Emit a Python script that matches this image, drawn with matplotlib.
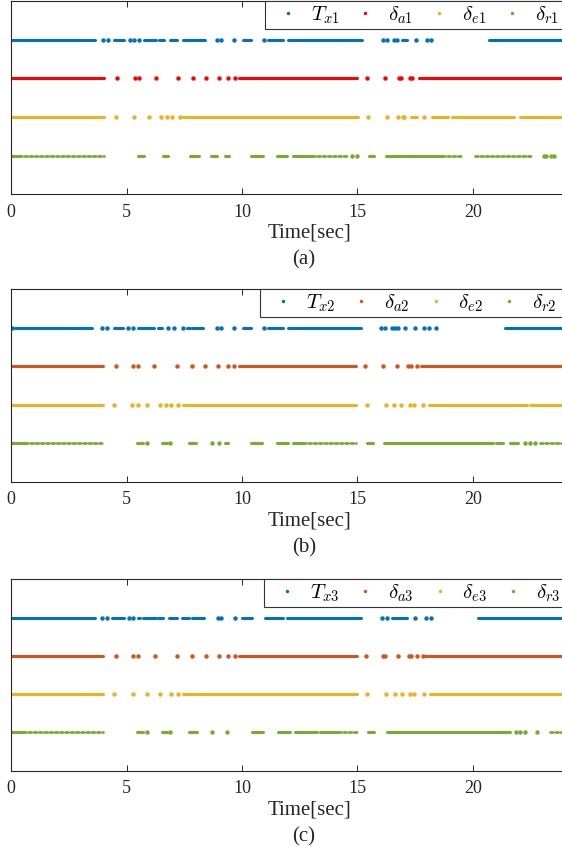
import matplotlib
matplotlib.use('Agg')
import matplotlib.pyplot as plt
from matplotlib.lines import Line2D
from matplotlib.patches import Rectangle

plt.rcParams['font.family'] = 'serif'
plt.rcParams['font.serif'] = ['Liberation Serif', 'DejaVu Serif']
plt.rcParams['mathtext.fontset'] = 'cm'

# ---- data: event times [sec] ----
# (a)
tx1_dense = [(0, 3.63), (4.47, 4.88), (5.75, 6.27), (6.40, 6.62), (6.88, 7.17), (7.46, 8.40),
             (10.06, 10.38), (11.11, 11.76), (12.01, 15.19), (16.92, 17.14), (20.72, 24)]
tx1_dots = [3.99, 4.18, 5.14, 5.33, 5.55, 8.92, 9.08, 9.67, 10.97, 16.13, 16.30, 16.60,
            16.73, 17.54, 18.00, 18.18]
da1_dense = [(0, 4.02), (9.88, 15.00), (17.65, 24)]
da1_dots = [4.57, 5.36, 5.55, 6.26, 7.21, 7.86, 8.44, 9.00, 9.39, 9.68, 15.40, 16.21,
            16.82, 16.88, 17.28, 17.38]
de1_dense = [(0, 4.02), (7.46, 15.04), (17.33, 17.57), (18.22, 18.95), (19.09, 21.77), (22.05, 24)]
de1_dots = [4.52, 5.30, 5.95, 6.49, 6.73, 6.95, 7.30, 15.48, 16.27, 16.78, 16.97, 17.02, 17.91]
dr1_dense = [(0, 0.35), (5.51, 5.75), (6.56, 6.81), (7.75, 8.14), (8.67, 8.90), (9.28, 9.45),
             (10.39, 10.90), (11.50, 11.96), (12.23, 13.02), (15.52, 15.74), (16.24, 18.66)]
dr1_sparse = [(0.35, 4.02), (13.02, 14.54), (18.66, 19.52), (20.10, 22.56)]
dr1_dots = [14.76, 15.00, 23.10, 23.18, 23.39, 23.54]

# (b)
tx2_dense = [(0.16, 3.48), (4.47, 4.86), (5.48, 5.65), (5.72, 6.18), (6.34, 6.55), (7.60, 7.75),
             (7.82, 8.32), (10.03, 10.38), (11.14, 11.76), (12.01, 15.15), (21.40, 24)]
tx2_dots = [0.04, 3.92, 4.13, 5.07, 5.29, 6.81, 7.05, 7.43, 8.90, 9.08, 9.64, 10.97, 16.03,
            16.20, 16.52, 16.63, 16.77, 17.06, 17.50, 17.89, 18.11, 18.41]
da2_dense = [(0, 3.99), (9.88, 14.94), (17.74, 24)]
da2_dots = [4.52, 5.29, 5.51, 6.20, 7.17, 7.82, 8.40, 8.97, 9.38, 9.67, 15.33, 16.13,
            16.73, 17.21, 17.31, 17.57]
de2_dense = [(0, 3.99), (7.43, 14.94), (18.10, 22.34), (22.49, 24)]
de2_dots = [4.47, 5.25, 5.51, 5.90, 6.45, 6.69, 6.91, 7.24, 15.43, 16.23, 16.59, 16.91,
            17.28, 17.45, 17.83]
dr2_dense = [(0, 0.6), (5.46, 5.72), (6.55, 6.73), (7.72, 8.00), (9.26, 9.41), (10.39, 10.88),
             (11.50, 12.00), (12.23, 12.66), (15.43, 15.67), (16.16, 20.90), (21.00, 21.30),
             (21.62, 21.98)]
dr2_sparse = [(0.6, 3.99), (12.66, 14.94), (22.90, 24)]
dr2_dots = [5.87, 6.88, 8.68, 9.02, 22.27, 22.49, 22.71]

# (c)
tx3_dense = [(0, 3.63), (4.38, 4.88), (5.48, 5.58), (5.69, 6.26), (6.34, 6.59), (6.84, 7.17),
             (7.41, 7.72), (7.82, 8.37), (9.99, 10.45), (11.00, 11.79), (11.94, 15.15),
             (16.52, 17.14), (20.25, 24)]
tx3_dots = [3.95, 4.13, 5.10, 5.29, 8.94, 9.08, 9.70, 16.06, 16.27, 17.50, 17.98, 18.18]
da3_dense = [(0, 3.99), (9.88, 14.97), (17.93, 24)]
da3_dots = [4.52, 5.29, 5.51, 6.23, 7.17, 7.82, 8.42, 8.99, 9.38, 9.70, 15.38, 16.13,
            16.21, 16.78, 17.25, 17.34, 17.60, 17.83]
de3_dense = [(0, 3.99), (7.43, 15.00), (18.15, 24)]
de3_dots = [4.47, 5.26, 5.90, 6.45, 6.91, 7.24, 15.43, 16.24, 16.63, 16.92, 17.28, 17.47, 17.90]
dr3_dense = [(0, 0.5), (5.46, 5.72), (6.55, 6.73), (7.72, 8.03), (10.45, 10.92), (11.57, 12.08),
             (12.30, 13.24), (13.38, 14.11), (15.48, 15.70), (16.27, 21.62)]
dr3_sparse = [(0.5, 3.99), (14.18, 14.97), (23.35, 24)]
dr3_dots = [5.87, 6.88, 8.71, 9.33, 21.86, 22.05, 22.27, 22.77]

levels = [4, 3, 2, 1]
blue, orange, yellow, green = '#0072BD', '#D95319', '#EDB120', '#77AC30'

panels = [
    dict(rows=[(tx1_dense, [], tx1_dots), (da1_dense, [], da1_dots),
               (de1_dense, [], de1_dots), (dr1_dense, dr1_sparse, dr1_dots)],
         colors=[blue, '#FF0000', yellow, green],
         labels=[r'$T_{x1}$', r'$\delta_{a1}$', r'$\delta_{e1}$', r'$\delta_{r1}$'],
         caption='(a)', top=1.3, bottom=194.3, leg_left=265),
    dict(rows=[(tx2_dense, [], tx2_dots), (da2_dense, [], da2_dots),
               (de2_dense, [], de2_dots), (dr2_dense, dr2_sparse, dr2_dots)],
         colors=[blue, orange, yellow, green],
         labels=[r'$T_{x2}$', r'$\delta_{a2}$', r'$\delta_{e2}$', r'$\delta_{r2}$'],
         caption='(b)', top=289.3, bottom=481.7, leg_left=260),
    dict(rows=[(tx3_dense, [], tx3_dots), (da3_dense, [], da3_dots),
               (de3_dense, [], de3_dots), (dr3_dense, dr3_sparse, dr3_dots)],
         colors=[blue, orange, yellow, green],
         labels=[r'$T_{x3}$', r'$\delta_{a3}$', r'$\delta_{e3}$', r'$\delta_{r3}$'],
         caption='(c)', top=579.3, bottom=770.7, leg_left=264),
]

W, H = 562, 856
fig = plt.figure(figsize=(W / 100, H / 100), dpi=100)

x_left = 11.3
x_right = 565.0
legends = []
for p in panels:
    ax = fig.add_axes([x_left / W, 1 - p['bottom'] / H,
                       (x_right - x_left) / W, (p['bottom'] - p['top']) / H])
    for (dense, sparse, dots), c, lev in zip(p['rows'], p['colors'], levels):
        for a, b in dense:
            ax.plot([a, b], [lev, lev], color=c, linewidth=2.2, solid_capstyle='round')
        for a, b in sparse:
            ax.plot([a, b], [lev, lev], color=c, linewidth=2.0,
                    linestyle=(0, (1.0, 0.9)), dash_capstyle='round')
        ax.plot(dots, [lev] * len(dots), linestyle='none', marker='o',
                markersize=3.2, color=c, markeredgewidth=0)

    ax.set_xlim(0, 24)
    ax.set_ylim(0, 5)
    ax.set_xticks([0, 5, 10, 15, 20])
    ax.set_yticks([])
    ax.tick_params(axis='x', direction='in', top=True, length=4.3, width=0.7,
                   labelsize=13, pad=7, colors='#262626')
    for s in ax.spines.values():
        s.set_linewidth(0.8)
        s.set_color('#262626')

    handles = [Line2D([], [], linestyle='none', marker='o', markersize=2.5,
                      markeredgewidth=0, color=c) for c in p['colors']]
    leg = ax.legend(handles, p['labels'], ncol=4, loc='upper left',
                    bbox_to_anchor=(p['leg_left'] / W, 1 - p['top'] / H),
                    bbox_transform=fig.transFigure, fontsize=15,
                    handlelength=1.9, handletextpad=0.15, columnspacing=0.3,
                    borderpad=0.15, borderaxespad=0, frameon=False)
    legends.append((ax, leg))

    fig.text(309 / W, 1 - (p['bottom'] + 39) / H, 'Time[sec]', ha='center', va='center',
             fontsize=15, color='#262626')
    fig.text(304 / W, 1 - (p['bottom'] + 66) / H, p['caption'], ha='center', va='center',
             fontsize=15, color='#262626')

# legend boxes run past the right edge of the picture, as in the source figure
fig.canvas.draw()
for ax, leg in legends:
    bb = leg.get_window_extent()
    box = Rectangle((bb.x0 / W, bb.y0 / H), (W + 10 - bb.x0) / W, bb.height / H,
                    transform=fig.transFigure, facecolor='white', edgecolor='#333333',
                    linewidth=0.8, zorder=4.5, clip_on=False)
    ax.add_artist(box)

fig.savefig('out.png', dpi=100)
